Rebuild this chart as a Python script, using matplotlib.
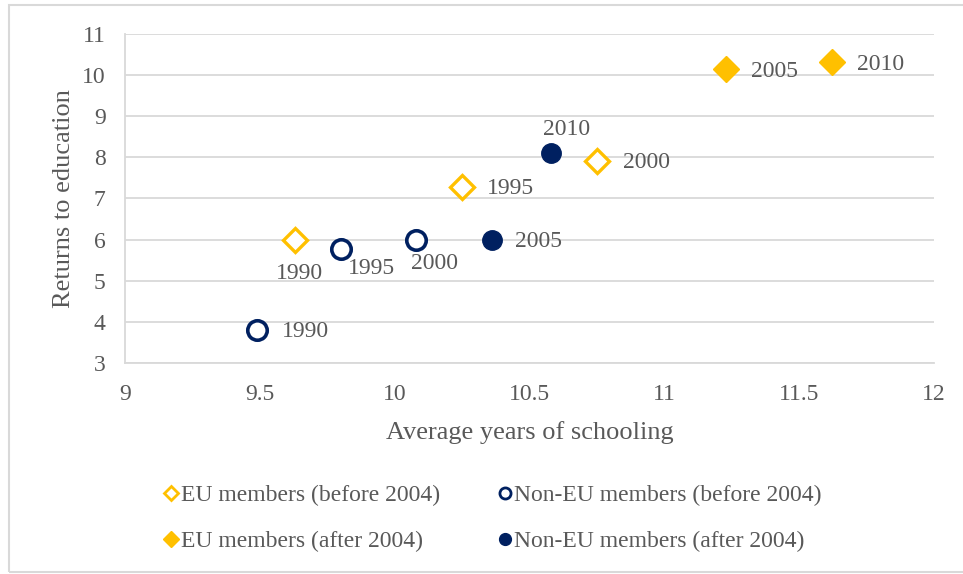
import matplotlib
matplotlib.use("Agg")
import matplotlib.pyplot as plt
from matplotlib.lines import Line2D
from matplotlib.patches import Rectangle

# Data
eu_before_x = [9.63, 10.25, 10.75]
eu_before_y = [5.99, 7.28, 7.92]
eu_before_lab = ["1990", "1995", "2000"]

eu_after_x = [11.23, 11.62]
eu_after_y = [10.15, 10.32]
eu_after_lab = ["2005", "2010"]

non_before_x = [9.49, 9.80, 10.08]
non_before_y = [3.81, 5.78, 5.99]
non_before_lab = ["1990", "1995", "2000"]

non_after_x = [10.36, 10.58]
non_after_y = [5.99, 8.11]
non_after_lab = ["2005", "2010"]

x_ticks = [9, 9.5, 10, 10.5, 11, 11.5, 12]
x_tick_labels = ["9", "9.5", "10", "10.5", "11", "11.5", "12"]
y_ticks = [3, 4, 5, 6, 7, 8, 9, 10, 11]

GOLD = "#FFC000"
NAVY = "#002060"
TXT = "#595959"
GRID = "#D9D9D9"

plt.rcParams['font.family'] = ['Liberation Serif', 'DejaVu Serif']

fig = plt.figure(figsize=(9.63, 5.74), dpi=100)
fig.patches.append(Rectangle((9 / 963, 2 / 574), 1.0, 1 - 7 / 574, transform=fig.transFigure,
                             fill=False, edgecolor="#D9D9D9", linewidth=1.5))
ax = fig.add_axes([0.1298, 0.3676, 0.8402, 0.5732])

ax.set_xlim(9, 12)
ax.set_ylim(3, 11)
ax.set_xticks(x_ticks)
ax.set_xticklabels(x_tick_labels)
ax.set_yticks(y_ticks)
ax.tick_params(axis='y', length=0, labelsize=17, labelcolor=TXT, pad=14)
ax.tick_params(axis='x', length=0, labelsize=17, labelcolor=TXT, pad=15)
ax.grid(axis='y', color=GRID, linewidth=1.3)
ax.set_axisbelow(True)
for s in ['top', 'right']:
    ax.spines[s].set_visible(False)
for s in ['left', 'bottom']:
    ax.spines[s].set_color(GRID)
    ax.spines[s].set_linewidth(1.3)

ax.set_xlabel("Average years of schooling", fontsize=19, color=TXT, labelpad=12)
ax.set_ylabel("Returns to education", fontsize=19, color=TXT, labelpad=5)

ax.plot(eu_before_x, eu_before_y, linestyle='none', marker='D', markersize=12,
        markerfacecolor='white', markeredgecolor=GOLD, markeredgewidth=2.4, clip_on=False)
ax.plot(eu_after_x, eu_after_y, linestyle='none', marker='D', markersize=13,
        markerfacecolor=GOLD, markeredgecolor=GOLD, markeredgewidth=1, clip_on=False)
ax.plot(non_before_x, non_before_y, linestyle='none', marker='o', markersize=14,
        markerfacecolor='white', markeredgecolor=NAVY, markeredgewidth=2.6, clip_on=False)
ax.plot(non_after_x, non_after_y, linestyle='none', marker='o', markersize=14,
        markerfacecolor=NAVY, markeredgecolor=NAVY, markeredgewidth=1, clip_on=False)

def lab(x, y, t, dx, dy, ha='left', va='center'):
    ax.annotate(t, (x, y), xytext=(dx, dy), textcoords='offset points',
                fontsize=17, color=TXT, ha=ha, va=va)

# EU before
lab(eu_before_x[0], eu_before_y[0], eu_before_lab[0], 3, -24, ha='center')
lab(eu_before_x[1], eu_before_y[1], eu_before_lab[1], 18, -1)
lab(eu_before_x[2], eu_before_y[2], eu_before_lab[2], 19, -1)
# EU after
lab(eu_after_x[0], eu_after_y[0], eu_after_lab[0], 18, -2)
lab(eu_after_x[1], eu_after_y[1], eu_after_lab[1], 18, -2)
# Non-EU before
lab(non_before_x[0], non_before_y[0], non_before_lab[0], 18, -1)
lab(non_before_x[1], non_before_y[1], non_before_lab[1], 5, -14)
lab(non_before_x[2], non_before_y[2], non_before_lab[2], -4, -17)
# Non-EU after
lab(non_after_x[0], non_after_y[0], non_after_lab[0], 17, -1)
lab(non_after_x[1], non_after_y[1], non_after_lab[1], 11, 17, ha='center')

handles = [
    Line2D([], [], linestyle='none', marker='D', markersize=7, markerfacecolor='white',
           markeredgecolor=GOLD, markeredgewidth=2),
    Line2D([], [], linestyle='none', marker='D', markersize=8.5, markerfacecolor=GOLD,
           markeredgecolor=GOLD),
    Line2D([], [], linestyle='none', marker='o', markersize=8, markerfacecolor='white',
           markeredgecolor=NAVY, markeredgewidth=2),
    Line2D([], [], linestyle='none', marker='o', markersize=8.5, markerfacecolor=NAVY,
           markeredgecolor=NAVY),
]
labels = ["EU members (before 2004)", "EU members (after 2004)",
          "Non-EU members (before 2004)", "Non-EU members (after 2004)"]
leg = fig.legend(handles, labels, ncol=2, loc='center', bbox_to_anchor=(0.5124, 0.097),
                 frameon=False, fontsize=17, handlelength=0.5, handletextpad=0.15,
                 columnspacing=2.5, labelspacing=1.05)
for t in leg.get_texts():
    t.set_color(TXT)

fig.savefig("out.png", dpi=100)
